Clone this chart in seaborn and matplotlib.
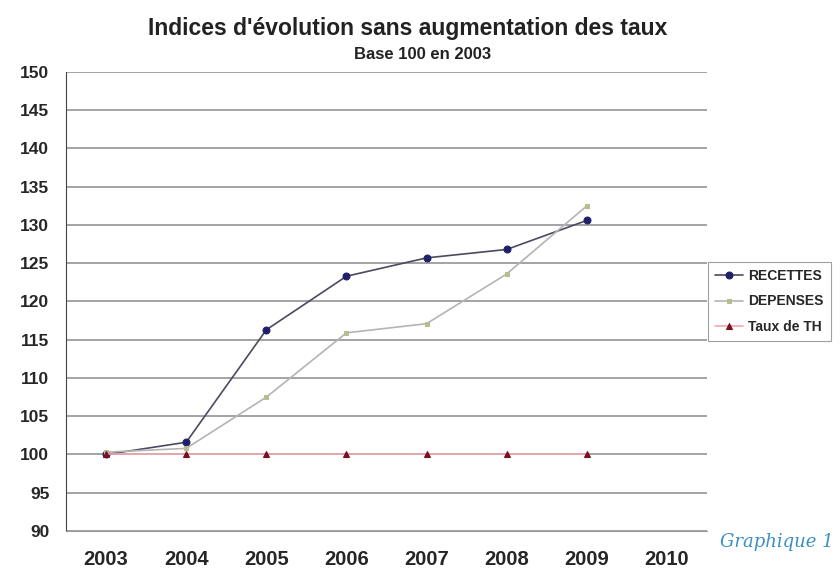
import numpy as np
import pandas as pd
import matplotlib
matplotlib.use('Agg')
import matplotlib.pyplot as plt
import seaborn as sns

sns.set_style('white')
plt.rcParams['font.family'] = ['Liberation Sans', 'DejaVu Sans']

years = ['2003', '2004', '2005', '2006', '2007', '2008', '2009', '2010']
recettes = [100.0, 101.6, 116.3, 123.3, 125.7, 126.8, 130.6]
depenses = [100.3, 100.8, 107.5, 115.9, 117.1, 123.6, 132.5]
taux_th = [100.0, 100.0, 100.0, 100.0, 100.0, 100.0, 100.0]
y_ticks = list(range(90, 151, 5))

series = [
    ('RECETTES', recettes, '#20206a', '#4a4a60', 'o', 5),
    ('DEPENSES', depenses, '#b8bc90', '#b4b4b4', 's', 3.5),
    ('Taux de TH', taux_th, '#7a1020', '#f0a8b0', '^', 5),
]

fig = plt.figure(figsize=(8.4, 5.69), dpi=100)
ax = fig.add_axes([0.0786, 0.0668, 0.7631, 0.8067])

for name, vals, mcol, lcol, mk, ms in series:
    df = pd.DataFrame({'x': np.arange(len(vals)), 'y': vals})
    sns.lineplot(data=df, x='x', y='y', ax=ax, color=lcol, linewidth=1.2,
                 marker=mk, markersize=ms, markerfacecolor=mcol,
                 markeredgecolor=mcol, label=name, legend=False)

ax.set_xlim(-0.5, len(years) - 0.5)
ax.set_ylim(90, 150)
ax.set_yticks(y_ticks)
ax.set_yticklabels([str(v) for v in y_ticks], fontsize=12.5, fontweight='bold')
ax.set_xticks(np.arange(len(years)))
ax.set_xticklabels(years, fontsize=14.5, fontweight='bold')
ax.set_xticks(np.arange(len(years) + 1) - 0.5, minor=True)
ax.tick_params(axis='x', which='major', length=0, pad=14)
ax.tick_params(axis='x', which='minor', length=5, color='#888888', direction='inout')
ax.tick_params(axis='y', length=6, color='#555555', direction='out', pad=6)
ax.set_xlabel('')
ax.set_ylabel('')

ax.yaxis.grid(True, color='#8a8a8a', linewidth=1.1)
ax.set_axisbelow(True)
for s in ['top', 'right']:
    ax.spines[s].set_visible(False)
ax.spines['left'].set_color('#444444')
ax.spines['bottom'].set_color('#999999')

fig.text(0.485, 0.938, "Indices d'évolution sans augmentation des taux",
         ha='center', fontsize=16.5, fontweight='bold', color='#222222')
fig.text(0.503, 0.896, 'Base 100 en 2003', ha='center', fontsize=12,
         fontweight='bold', color='#222222')
fig.text(0.993, 0.038, 'Graphique 1', ha='right', fontsize=13, style='italic',
         color='#3a8fc0', family='DejaVu Serif')

handles, labels = ax.get_legend_handles_labels()
leg = fig.legend(handles, labels, loc='upper left', bbox_to_anchor=(0.843, 0.54),
                 fontsize=10, frameon=True, fancybox=False, handlelength=2.0,
                 handletextpad=0.4, borderpad=0.5, labelspacing=0.85,
                 borderaxespad=0)
leg.get_frame().set_edgecolor('#888888')
leg.get_frame().set_linewidth(0.8)
for t in leg.get_texts():
    t.set_fontweight('bold')

fig.savefig('out.png', dpi=100)
